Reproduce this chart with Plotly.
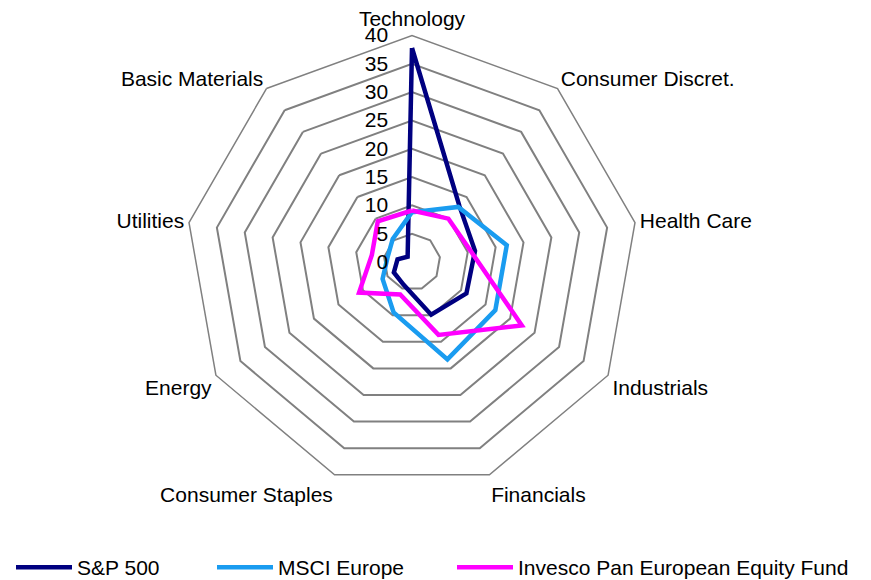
import plotly.graph_objects as go

# Sector weights (%)
sectors = ["Technology", "Consumer Discret.", "Health Care", "Industrials", "Financials",
           "Consumer Staples", "Energy", "Utilities", "Basic Materials"]
sp500 = [37.8, 13.0, 11.3, 11.1, 9.9, 4.3, 3.7, 2.6, 1.2]
msci_europe = [8.8, 12.7, 17.0, 17.0, 18.3, 9.5, 6.0, 4.4, 5.3]
invesco = [9.1, 10.0, 10.6, 22.4, 13.7, 6.1, 10.8, 7.2, 9.4]

series = [
    ("S&P 500", sp500, "#000080"),
    ("MSCI Europe", msci_europe, "#1A9CF0"),
    ("Invesco Pan European Equity Fund", invesco, "#FF00FF"),
]
legend_ids = ["legend", "legend2", "legend3"]
legend_x = [3, 204, 444]  # px where each legend entry starts

W, H = 871, 580
fig = go.Figure()
for (name, vals, color), lid in zip(series, legend_ids):
    # close the polygon
    fig.add_trace(go.Scatterpolar(
        r=vals + vals[:1],
        theta=sectors + sectors[:1],
        mode="lines",
        name=name,
        legend=lid,
        line=dict(color=color, width=4.5),
    ))

# one legend box per series so entries sit where the reference has them
for lid, lx in zip(legend_ids, legend_x):
    fig.update_layout({lid: dict(orientation="h", x=lx / W, xanchor="left",
                                 y=0.02, yanchor="middle",
                                 font=dict(size=21), itemwidth=56,
                                 bgcolor="rgba(0,0,0,0)")})

# domain tuned so the outer ring lands where the reference has it
cx, cy, rad = 404, 258, 230
fig.update_layout(
    width=W, height=H,
    margin=dict(l=0, r=0, t=0, b=0),
    paper_bgcolor="white",
    font=dict(family="Liberation Sans, Arial, sans-serif", size=21, color="black"),
    polar=dict(
        domain=dict(x=[(cx - rad) / W, (cx + rad) / W],
                    y=[(H - cy - rad) / H, (H - cy + rad) / H]),
        gridshape="linear",
        bgcolor="white",
        radialaxis=dict(range=[0, 40], dtick=5, angle=90, side="counterclockwise",
                        tickangle=90, showline=False,
                        ticks="outside", ticklen=16, tickcolor="rgba(0,0,0,0)",
                        gridcolor="#808080", gridwidth=1.5,
                        tickfont=dict(size=21)),
        angularaxis=dict(direction="clockwise", rotation=90,
                         showgrid=False, showline=True,
                         linecolor="#808080", linewidth=1.5, ticks="",
                         tickfont=dict(size=21)),
    ),
    showlegend=True,
)

fig.write_html("out.html")
